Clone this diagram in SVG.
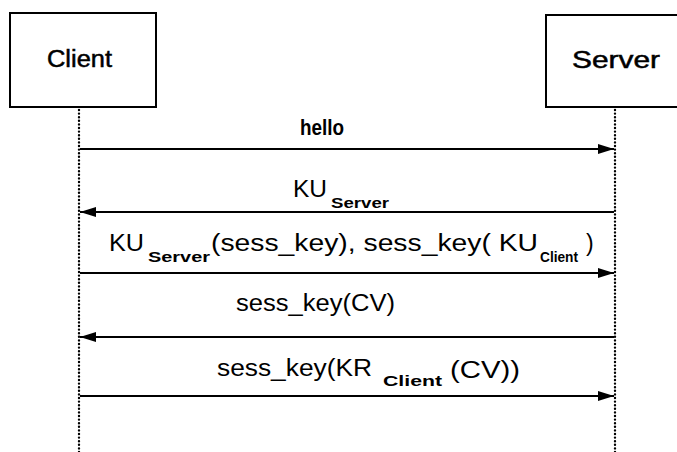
<svg xmlns="http://www.w3.org/2000/svg" width="677" height="452" viewBox="0 0 677 452">
<style>
.box{fill:#fff;stroke:#000;stroke-width:2}
.life{stroke:#000;stroke-width:2.4;stroke-dasharray:0 3.6;stroke-linecap:round;fill:none}
.msg{stroke:#000;stroke-width:2;fill:none}
text{font-family:"Liberation Sans",Arial,sans-serif;fill:#000}
.lbl{font-size:23px}
.sub{font-size:14px;font-weight:bold}
.nm{font-size:23px;stroke:#000;stroke-width:0.5}
.hl{font-size:22px;font-weight:bold}
</style>
<defs>
<marker id="ah" markerUnits="userSpaceOnUse" markerWidth="17" markerHeight="12" refX="16" refY="6" orient="auto">
<path d="M0,1 L16,6 L0,11 Z" fill="#000"/>
</marker>
</defs>
<rect width="677" height="452" fill="#fff"/>
<g id="client">
<rect class="box" x="10" y="13" width="146" height="94"/>
<text class="nm" x="47" y="67" textLength="65" lengthAdjust="spacingAndGlyphs">Client</text>
</g>
<g id="server">
<rect class="box" x="546" y="15" width="140" height="92"/>
<text class="nm" x="572" y="68" textLength="88" lengthAdjust="spacingAndGlyphs">Server</text>
</g>
<g id="connectors">
<line class="life" x1="79" y1="110" x2="79" y2="452"/>
<line class="life" x1="615" y1="110" x2="615" y2="452"/>
<line class="msg" x1="80" y1="149" x2="614" y2="149" marker-end="url(#ah)"/>
<line class="msg" x1="614" y1="212" x2="80" y2="212" marker-end="url(#ah)"/>
<line class="msg" x1="80" y1="273" x2="614" y2="273" marker-end="url(#ah)"/>
<line class="msg" x1="614" y1="337" x2="80" y2="337" marker-end="url(#ah)"/>
<line class="msg" x1="80" y1="396" x2="614" y2="396" marker-end="url(#ah)"/>
</g>
<g id="labels">
<text class="hl" x="300" y="135" textLength="44" lengthAdjust="spacingAndGlyphs">hello</text>
<text class="lbl" x="293" y="197" textLength="34" lengthAdjust="spacingAndGlyphs">KU</text>
<text class="sub" x="331" y="208" textLength="58" lengthAdjust="spacingAndGlyphs">Server</text>
<text class="lbl" x="109" y="251" textLength="35" lengthAdjust="spacingAndGlyphs">KU</text>
<text class="sub" x="148" y="262" textLength="62" lengthAdjust="spacingAndGlyphs">Server</text>
<text class="lbl" x="211" y="251" textLength="327" lengthAdjust="spacingAndGlyphs">(sess_key), sess_key( KU</text>
<text class="sub" x="540" y="262" textLength="38" lengthAdjust="spacingAndGlyphs">Client</text>
<text class="lbl" x="586" y="251">)</text>
<text class="lbl" x="236" y="311" textLength="159" lengthAdjust="spacingAndGlyphs">sess_key(CV)</text>
<text class="lbl" x="217" y="376" textLength="155" lengthAdjust="spacingAndGlyphs">sess_key(KR</text>
<text class="sub" x="383" y="386" textLength="59" lengthAdjust="spacingAndGlyphs">Client</text>
<text class="lbl" x="450" y="378" textLength="70" lengthAdjust="spacingAndGlyphs">(CV))</text>
</g>
</svg>
